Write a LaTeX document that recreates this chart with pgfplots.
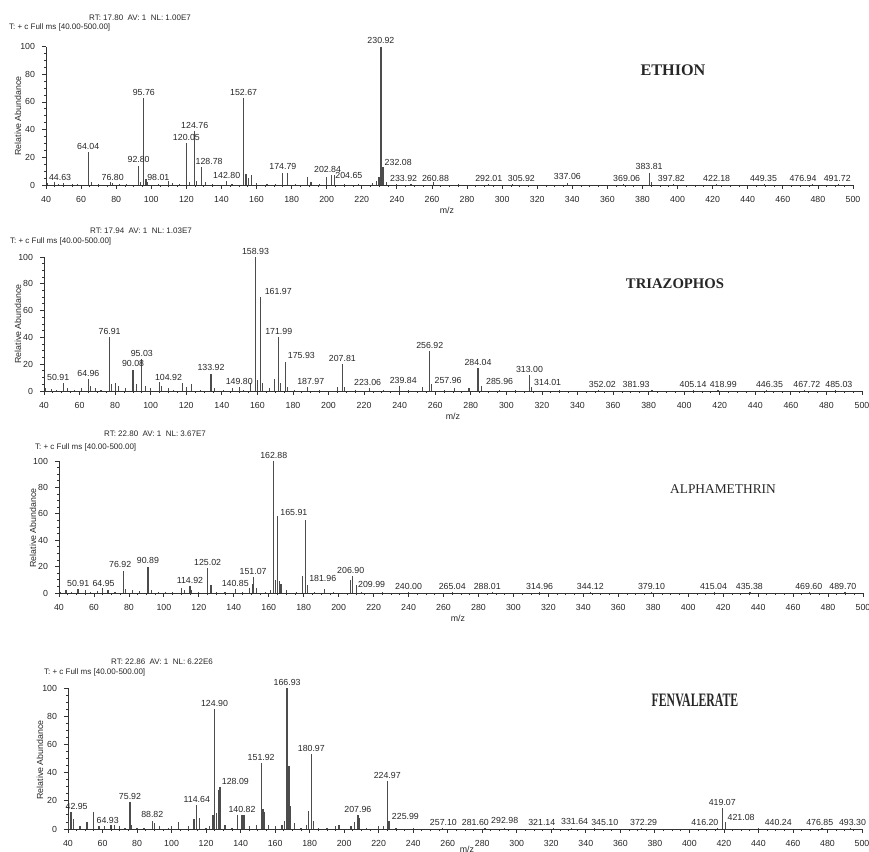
\documentclass[border=0pt]{standalone}
\usepackage{pgfplots}
\pgfplotsset{compat=1.18}
\usepackage{pgfplotstable}
\usepackage{fontspec}
\setmainfont{Liberation Sans}
\newfontfamily\tnr{Liberation Serif}
\newcommand{\sm}{\fontsize{4.4}{5}\selectfont}
\newcommand{\hd}{\fontsize{4.0}{5}\selectfont}

\pgfplotsset{
  ms/.style={scale only axis, anchor=south west,
    xmin=40, xmax=500, ymin=0, ymax=100, enlargelimits=false,
    axis lines=left, axis line style={-, black!80}, clip=false,
    xtick distance=20, ytick={0,20,40,60,80,100},
    minor x tick num=3, minor y tick num=3,
    tick align=outside, major tick length=2pt, minor tick length=1.1pt,
    tick style={black!80, line width=0.4pt},
    tick label style={font=\sm, text=black!85},
    /pgf/number format/assume math mode=true},
  pk/.style={ycomb, mark=none, black!70, line width=0.6pt},
  lbS/.style={draw=none, mark=none, nodes near coords, point meta=explicit symbolic,
    every node near coord/.append style={font=\sm, text=black!85, anchor=south, inner sep=0.4pt}},
  lbW/.style={draw=none, mark=none, nodes near coords, point meta=explicit symbolic,
    every node near coord/.append style={font=\sm, text=black!85, anchor=south west, inner sep=0.4pt}},
}

% ---------------- ETHION ----------------
\pgfplotstableread{
x y
41 1.5
44.63 2
47 1
50 1.5
55 1
58 1
64.04 24
66 2
70 1
76.80 2.5
78 1.5
82 1
86 1
92.80 14
94 2
95.76 63
97 4
98.01 2.5
104 1
110 3
112 1.5
116 1
120.05 30
122 2
124.76 39
126 3
128.78 13
131 2
135 1
142.80 3
146 1
152.67 63
154 8
155.5 5
157 7
160 1.5
166 1
171 1
174.79 9
177.6 9
182 1
189 6
191 2
196 1
199.8 6
202.84 7
204.65 7
210 1
218 1
226 1.5
228.5 3
229.8 6
230.92 100
232.08 13
233.92 2
240 1
248 1
260.88 2
275 1
292.01 1
305.92 1
337.06 1.5
369.06 1
383.81 9
385 2
397.82 1
422.18 1
449.35 1
476.94 1
491.72 1
}\pA
\pgfplotstableread{
x y t
48 2.5 44.63
64.04 25 64.04
78 2.5 76.80
92.80 15 92.80
95.76 64 95.76
104 2.5 98.01
120.05 31 120.05
124.76 40 124.76
133 14 128.78
143 3.5 142.80
152.67 64 152.67
175 10 174.79
200.5 8 202.84
230.92 101 230.92
262 1.5 260.88
292.4 1.5 292.01
311 1.5 305.92
337.2 3 337.06
371 1.5 369.06
383.81 10 383.81
396.5 1.5 397.82
422.3 1.5 422.18
449 1.5 449.35
471.5 1.5 476.94
491 1.5 491.72
}\lA
\pgfplotstableread{
x y t
204.3 4 204.65
232.4 13 232.08
235.5 1.5 233.92
}\wA

% ---------------- TRIAZOPHOS ----------------
\pgfplotstableread{
x y
41 2
44 1.5
47 1
50.91 6
53 2
57 1
61 2
64.96 9
66 4
69 2
72 1
76.91 40
78 5
80 6
82 4
86 2
90.08 16
92 5
95.03 24
97 4
100 2
104.92 7
106 4
110 2
113 1
118 6
120 3
123 5
128 1
133.92 13
136 2
141 1
146 2
149.80 3
152 1
156 6
158.93 100
160 8
161.97 70
163 6
167 2
169.5 9
171.99 40
173 6
175.93 22
177 3
181 1
187.97 3
195 1
205 3
207.81 20
209 3
215 1
223.06 2
231 1
239.84 4
245 1
253 3
256.92 30
257.96 5
265 1
271 2
279 2
284.04 17
285.96 4
296 1
305 1
313.00 12
314.01 3
330 1
352.02 1
381.93 1
405.14 1
418.99 1
446.35 1
467.71 1
485.03 1
}\pB
\pgfplotstableread{
x y t
48 7 50.91
64.96 10 64.96
76.91 41 76.91
90.08 17 90.08
95.03 25 95.03
110 7 104.92
133.92 14 133.92
149.80 4 149.80
158.93 101 158.93
171.99 41 171.99
190 4 187.97
207.81 21 207.81
222 3 223.06
242 5 239.84
256.92 31 256.92
284.04 18 284.04
313.00 13 313.00
354 2 352.02
373 2 381.93
405 2 405.14
422 2 418.99
448 2 446.35
469 2 467.72
487 2 485.03
}\lB
\pgfplotstableread{
x y t
163.5 71 161.97
176.5 23 175.93
259 5 257.96
288 4 285.96
315 3 314.01
}\wB

% ---------------- ALPHAMETHRIN ----------------
\pgfplotstableread{
x y
41 1
44 2
47 1
50.91 3
55 2
58 1
62 1.5
64.95 4
68 2
72 1
76.92 17
78 3
82 2
86 1.5
90.89 20
93 2
97 1
101 1
105 1
110 4
112 2
114.92 5
116 2
120 1
125.02 19
127 6
130 1
135 1
140.85 3
145 1
149 4
150.5 7
151.07 12
153 4
158 1
161 2
162.88 100
164 10
165.01 58
166 9
167 7
170 2
176 1
179.5 13
180.92 55
182 6
186 1
192 3
197 1
206.90 10
207.8 13
209.99 6
213 1
225 1
240.00 1
265.04 1
288.01 1
314.96 1
344.12 1
379.10 1
415.04 1
435.38 1
469.60 1
489.70 1
}\pC
\pgfplotstableread{
x y t
51 4 50.91
65.5 4 64.95
75 18 76.92
90.89 21 90.89
114.92 6 114.92
125.02 20 125.02
140.85 4 140.85
151.07 13 151.07
162.88 101 162.88
206.90 14 206.90
240 1.5 240.00
265 1.5 265.04
285 1.5 288.01
315 1.5 314.96
344 1.5 344.12
379 1.5 379.10
414.5 2 415.04
435 1.5 435.38
469 1.5 469.60
488.5 1.5 489.70
}\lC
\pgfplotstableread{
x y t
166 58 165.91
182.5 8 181.96
210.5 3 209.99
}\wC

% ---------------- FENVALERATE ----------------
\pgfplotstableread{
x y
40.5 6
41.7 12
43 7
47 2
51 5
55 12
58 2
61 2
64.93 3
67 3
70 2
73 1
75.92 19
77 3
80 1
84 1
88.82 6
90 4
93 2
98 1
100 2
104 5
110 2
113 7
114.64 17
116 8
120 1
122 2
124 10
124.90 85
126 11
127 28
128.09 30
131 3
135 1
138 10
140.82 10
142 10
145 2
149 3
151.92 47
153 14
154 12
156 3
160 2
164 3
165.5 6
166.93 100
168 45
169 16
171 4
175 1
178 3
179.5 13
180.97 53
182 6
185 1
190 1
195 2
197 3
204 2
206 5
207.96 10
209 8
213 1
220 2
223 2
224.97 34
225.99 6
230 1
240 1
257.10 1
281.60 1
292.98 1
321.14 1
331.64 1
345.10 1
372.29 1
416.20 1
419.07 15
421.08 5
440.24 1
476.85 1
493.30 1
}\pD
\pgfplotstableread{
x y t
45 13 42.95
63 3 64.93
75.92 20 75.92
88.82 7 88.82
114.64 18 114.64
124.90 86 124.90
140.82 11 140.82
151.92 48 151.92
166.93 101 166.93
180.97 54 180.97
207.96 11 207.96
224.97 35 224.97
257.5 1.5 257.10
276 1.5 281.60
293 3 292.98
314.5 1.5 321.14
333.5 2 331.64
351 1.5 345.10
373.5 1.5 372.29
409 1.5 416.20
419.07 16 419.07
451.5 1.5 440.24
475.5 1.5 476.85
494.5 1.5 493.30
}\lD
\pgfplotstableread{
x y t
128.5 31 128.09
227 6 225.99
421.5 5 421.08
}\wD

\begin{document}
\begin{tikzpicture}
\useasboundingbox (0,0) rectangle (434.5pt,426pt);

% ETHION
\begin{axis}[ms, at={(23pt,333.5pt)}, width=403.5pt, height=69.2pt]
\addplot[pk] table[x=x,y=y] {\pA};
\addplot[lbS] table[x=x,y=y,meta=t] {\lA};
\addplot[lbW] table[x=x,y=y,meta=t] {\wA};
\end{axis}
\node[font=\hd, text=black!85] at (70pt,417pt) {RT: 17.80\ \ AV: 1\ \ NL: 1.00E7};
\node[font=\hd, text=black!85, anchor=west] at (1pt,412.5pt) {T: + c Full ms [40.00-500.00]};
\node[font=\sm, text=black!85, rotate=90] at (9pt,368pt) {Relative Abundance};
\node[font=\sm, text=black!85] at (223.5pt,321pt) {m/z};
\node[font=\tnr\bfseries\fontsize{8.1}{9}\selectfont, text=black!85] at (336.5pt,391pt) {ETHION};

% TRIAZOPHOS
\begin{axis}[ms, at={(22pt,230.5pt)}, width=409pt, height=67pt]
\addplot[pk] table[x=x,y=y] {\pB};
\addplot[lbS] table[x=x,y=y,meta=t] {\lB};
\addplot[lbW] table[x=x,y=y,meta=t] {\wB};
\end{axis}
\node[font=\hd, text=black!85] at (70.5pt,310.5pt) {RT: 17.94\ \ AV: 1\ \ NL: 1.03E7};
\node[font=\hd, text=black!85, anchor=west] at (1.5pt,305.5pt) {T: + c Full ms [40.00-500.00]};
\node[font=\sm, text=black!85, rotate=90] at (9pt,264pt) {Relative Abundance};
\node[font=\sm, text=black!85] at (226.5pt,218pt) {m/z};
\node[font=\tnr\bfseries\fontsize{7.35}{8}\selectfont, text=black!85] at (337.5pt,284pt) {TRIAZOPHOS};

% ALPHAMETHRIN
\begin{axis}[ms, at={(29.5pt,129.5pt)}, width=402pt, height=66pt]
\addplot[pk] table[x=x,y=y] {\pC};
\addplot[lbS] table[x=x,y=y,meta=t] {\lC};
\addplot[lbW] table[x=x,y=y,meta=t] {\wC};
\end{axis}
\node[font=\hd, text=black!85] at (77.5pt,209pt) {RT: 22.80\ \ AV: 1\ \ NL: 3.67E7};
\node[font=\hd, text=black!85, anchor=west] at (14pt,202.5pt) {T: + c Full ms [40.00-500.00]};
\node[font=\sm, text=black!85, rotate=90] at (16.5pt,162pt) {Relative Abundance};
\node[font=\sm, text=black!85] at (229pt,117pt) {m/z};
\node[font=\tnr\fontsize{6.7}{8}\selectfont, text=black!85] at (361.5pt,181.5pt) {ALPHAMETHRIN};

% FENVALERATE
\begin{axis}[ms, at={(34pt,11.5pt)}, width=397pt, height=70.5pt]
\addplot[pk] table[x=x,y=y] {\pD};
\addplot[lbS] table[x=x,y=y,meta=t] {\lD};
\addplot[lbW] table[x=x,y=y,meta=t] {\wD};
\end{axis}
\node[font=\hd, text=black!85] at (81pt,95pt) {RT: 22.86\ \ AV: 1\ \ NL: 6.22E6};
\node[font=\hd, text=black!85, anchor=west] at (18.5pt,90pt) {T: + c Full ms [40.00-500.00]};
\node[font=\sm, text=black!85, rotate=90] at (20pt,46pt) {Relative Abundance};
\node[font=\sm, text=black!85] at (233.5pt,1.5pt) {m/z};
\node[font=\tnr\bfseries\fontsize{9.5}{10}\selectfont, text=black!85, xscale=0.62] at (347.5pt,76pt) {FENVALERATE};
\end{tikzpicture}
\end{document}
